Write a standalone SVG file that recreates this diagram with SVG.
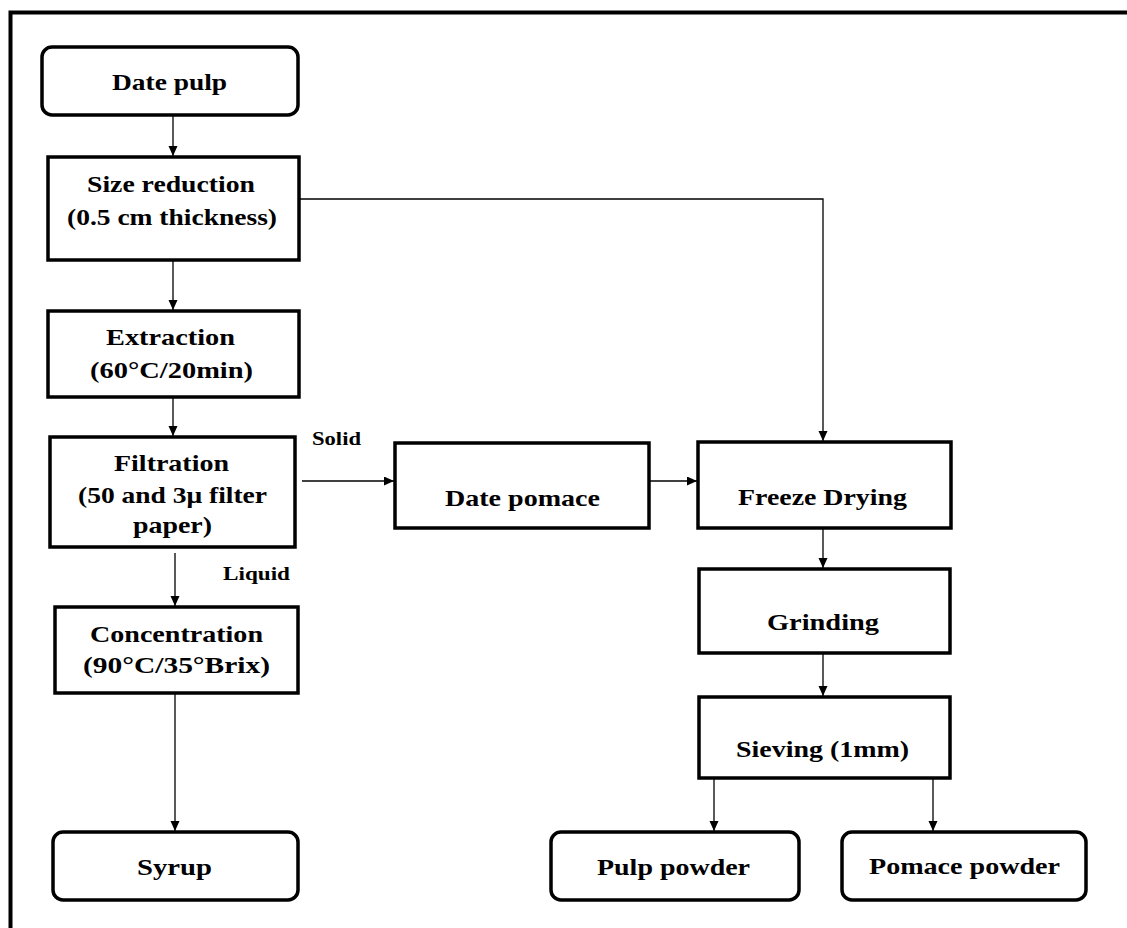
<svg xmlns="http://www.w3.org/2000/svg" width="1127" height="928" viewBox="0 0 1127 928">
<style>
.box{fill:#fff;stroke:#000;stroke-width:3.5}
.t{font-family:"Liberation Serif","Times New Roman",serif;font-weight:bold;font-size:24px;fill:#000}
.lbl{font-family:"Liberation Serif","Times New Roman",serif;font-weight:bold;font-size:18px;fill:#000}
.c{fill:none;stroke:#000;stroke-width:1.3}
</style>
<defs>
<marker id="ah" markerUnits="userSpaceOnUse" markerWidth="10" markerHeight="10" refX="10" refY="4.5" orient="auto">
<path d="M0,0 L10,4.5 L0,9 z" fill="#000"/>
</marker>
</defs>
<rect width="1127" height="928" fill="#fff"/>
<path d="M10.5,928 V12.5 H1127" fill="none" stroke="#000" stroke-width="4"/>

<g id="connectors">
<line class="c" x1="173" y1="115" x2="173" y2="156" marker-end="url(#ah)"/>
<line class="c" x1="173" y1="260" x2="173" y2="310" marker-end="url(#ah)"/>
<line class="c" x1="173" y1="397" x2="173" y2="436" marker-end="url(#ah)"/>
<line class="c" x1="175" y1="553" x2="175" y2="606" marker-end="url(#ah)"/>
<line class="c" x1="175" y1="693" x2="175" y2="831" marker-end="url(#ah)"/>
<path class="c" d="M299,199 H823 V441" marker-end="url(#ah)"/>
<line class="c" x1="302" y1="481" x2="394" y2="481" marker-end="url(#ah)"/>
<line class="c" x1="649" y1="481" x2="697" y2="481" marker-end="url(#ah)"/>
<line class="c" x1="823" y1="528" x2="823" y2="568" marker-end="url(#ah)"/>
<line class="c" x1="823" y1="653" x2="823" y2="696" marker-end="url(#ah)"/>
<line class="c" x1="714" y1="778" x2="714" y2="831" marker-end="url(#ah)"/>
<line class="c" x1="933" y1="778" x2="933" y2="831" marker-end="url(#ah)"/>
<text class="lbl" x="312" y="445" textLength="49" lengthAdjust="spacingAndGlyphs">Solid</text>
<text class="lbl" x="223" y="580" textLength="67" lengthAdjust="spacingAndGlyphs">Liquid</text>
</g>

<g id="date-pulp">
<rect class="box" x="42" y="47" width="256" height="68" rx="10"/>
<text class="t" x="112" y="90" textLength="115" lengthAdjust="spacingAndGlyphs">Date pulp</text>
</g>
<g id="size-reduction">
<rect class="box" x="48" y="157" width="251" height="103"/>
<text class="t" x="87" y="192" textLength="168" lengthAdjust="spacingAndGlyphs">Size reduction</text>
<text class="t" x="67" y="225" textLength="210" lengthAdjust="spacingAndGlyphs">(0.5 cm thickness)</text>
</g>
<g id="extraction">
<rect class="box" x="48" y="311" width="251" height="86"/>
<text class="t" x="106" y="345" textLength="129" lengthAdjust="spacingAndGlyphs">Extraction</text>
<text class="t" x="90" y="378" textLength="163" lengthAdjust="spacingAndGlyphs">(60°C/20min)</text>
</g>
<g id="filtration">
<rect class="box" x="50" y="437" width="245" height="110"/>
<text class="t" x="114" y="471" textLength="115" lengthAdjust="spacingAndGlyphs">Filtration</text>
<text class="t" x="78" y="503" textLength="189" lengthAdjust="spacingAndGlyphs">(50 and 3μ filter</text>
<text class="t" x="133" y="533" textLength="79" lengthAdjust="spacingAndGlyphs">paper)</text>
</g>
<g id="concentration">
<rect class="box" x="55" y="607" width="243" height="86"/>
<text class="t" x="90" y="642" textLength="173" lengthAdjust="spacingAndGlyphs">Concentration</text>
<text class="t" x="83" y="673" textLength="187" lengthAdjust="spacingAndGlyphs">(90°C/35°Brix)</text>
</g>
<g id="syrup">
<rect class="box" x="53" y="832" width="245" height="68" rx="10"/>
<text class="t" x="137" y="875" textLength="75" lengthAdjust="spacingAndGlyphs">Syrup</text>
</g>
<g id="date-pomace">
<rect class="box" x="395" y="443" width="254" height="85"/>
<text class="t" x="445" y="506" textLength="155" lengthAdjust="spacingAndGlyphs">Date pomace</text>
</g>
<g id="freeze-drying">
<rect class="box" x="698" y="442" width="253" height="86"/>
<text class="t" x="738" y="505" textLength="169" lengthAdjust="spacingAndGlyphs">Freeze Drying</text>
</g>
<g id="grinding">
<rect class="box" x="699" y="569" width="251" height="84"/>
<text class="t" x="767" y="630" textLength="112" lengthAdjust="spacingAndGlyphs">Grinding</text>
</g>
<g id="sieving">
<rect class="box" x="699" y="697" width="251" height="81"/>
<text class="t" x="736" y="757" textLength="173" lengthAdjust="spacingAndGlyphs">Sieving (1mm)</text>
</g>
<g id="pulp-powder">
<rect class="box" x="551" y="832" width="248" height="68" rx="10"/>
<text class="t" x="597" y="875" textLength="153" lengthAdjust="spacingAndGlyphs">Pulp powder</text>
</g>
<g id="pomace-powder">
<rect class="box" x="842" y="832" width="244" height="68" rx="10"/>
<text class="t" x="869" y="874" textLength="191" lengthAdjust="spacingAndGlyphs">Pomace powder</text>
</g>
</svg>
